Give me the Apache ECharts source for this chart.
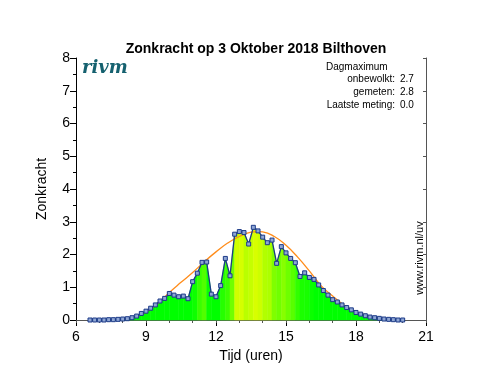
<!DOCTYPE html>
<html>
<head>
<meta charset="utf-8">
<script src="https://cdn.jsdelivr.net/npm/echarts@6/dist/echarts.min.js"></script>
<style>
  html, body { margin: 0; padding: 0; background: #fff; }
  #chart { width: 502px; height: 377px; }
</style>
</head>
<body>
<div id="chart"></div>
<script>
// metingen: elke 12 minuten, 6.6 uur t/m 20.0 uur
var startUur = 6.6;
var stapUur = 0.2;
var gemeten = [
  0.00, 0.00, 0.00, 0.00, 0.01, 0.01, 0.02,
  0.03, 0.04, 0.07, 0.12, 0.20,
  0.27, 0.36, 0.46, 0.58, 0.66,
  0.81, 0.76, 0.71, 0.73, 0.65,
  1.17, 1.43, 1.76, 1.77, 0.79,
  0.71, 1.05, 1.88, 1.35, 2.62,
  2.70, 2.67, 2.32, 2.83, 2.72,
  2.53, 2.36, 2.44, 1.73, 2.24,
  2.05, 1.88, 1.75, 1.33, 1.44,
  1.30, 1.24, 1.07, 0.90, 0.76,
  0.62, 0.55, 0.46, 0.38, 0.31,
  0.23, 0.18, 0.13, 0.09, 0.07,
  0.05, 0.03, 0.02, 0.01, 0.00,
  0.00
];
// onbewolkt (heldere hemel)
var onbewolktUur = [7.8, 8.0, 8.5, 9.0, 9.5, 10.0, 10.5, 11.0, 11.5, 12.0, 12.5, 13.0, 13.5, 13.8,
  14.0, 14.5, 15.0, 15.5, 16.0, 16.5, 17.0, 17.5, 18.0, 18.5, 19.0, 19.4];
var onbewolkt = [0.0, 0.02, 0.1, 0.25, 0.5, 0.84, 1.15, 1.45, 1.78, 2.08, 2.35, 2.55, 2.68, 2.7,
  2.69, 2.55, 2.28, 1.92, 1.5, 1.05, 0.73, 0.45, 0.26, 0.14, 0.05, 0.0];
var xTicks = [6, 9, 12, 15, 18, 21];

var uren = [];
for (var i = 0; i < gemeten.length; i++) {
  uren.push(+(startUur + i * stapUur).toFixed(2));
}
var lijnData = [], vlakData = [], heldereData = [];
for (var i = 0; i < gemeten.length; i++) {
  lijnData.push([uren[i], gemeten[i]]);
  if (i < gemeten.length - 1) vlakData.push([uren[i], gemeten[i], uren[i + 1], gemeten[i + 1]]);
}
for (var i = 0; i < onbewolkt.length; i++) heldereData.push([onbewolktUur[i], onbewolkt[i]]);

function kleur(v) {
  var f = Math.max(0, Math.min(1, (v - 1.2) / 1.5));
  var r = Math.round(f * 215);
  return 'rgb(' + r + ',255,0)';
}

var font = 'Liberation Sans, Arial, Helvetica, sans-serif';
var chart = echarts.init(document.getElementById('chart'));
chart.setOption({
  animation: false,
  title: {
    text: 'Zonkracht op 3 Oktober 2018 Bilthoven',
    left: 251, textAlign: 'center', top: 37,
    textStyle: { fontFamily: font, fontSize: 14, fontWeight: 'bold', color: '#000' }
  },
  grid: { left: 76, right: 76, top: 58, bottom: 57 },
  xAxis: [{
    type: 'value', position: 'bottom', min: 6, max: 21, interval: 3,
    name: 'Tijd (uren)', nameLocation: 'middle', nameGap: 29,
    nameTextStyle: { fontFamily: font, fontSize: 14, color: '#000' },
    axisLine: { show: true, lineStyle: { color: '#000', width: 1 } },
    axisTick: { show: true, length: 6, lineStyle: { color: '#000' } },
    minorTick: { show: true, splitNumber: 3, length: 3, lineStyle: { color: '#000' } },
    axisLabel: { fontFamily: font, fontSize: 14, color: '#000', margin: 10,
      formatter: function (v) { return xTicks.indexOf(v) >= 0 ? v : ''; } },
    splitLine: { show: false }
  }, {
    type: 'value', position: 'top', min: 6, max: 21, interval: 1,
    axisLine: { show: true, lineStyle: { color: '#555' } },
    axisTick: { show: true, inside: true, length: 3, lineStyle: { color: '#555' } },
    axisLabel: { show: false },
    splitLine: { show: false }
  }],
  yAxis: [{
    type: 'value', position: 'left', min: 0, max: 8, interval: 1,
    name: 'Zonkracht', nameLocation: 'middle', nameGap: 27, nameRotate: 90,
    nameTextStyle: { fontFamily: font, fontSize: 14, color: '#000' },
    axisLine: { show: true, lineStyle: { color: '#000', width: 1 } },
    axisTick: { show: true, length: 6, lineStyle: { color: '#000' } },
    minorTick: { show: true, splitNumber: 2, length: 3, lineStyle: { color: '#000' } },
    axisLabel: { fontFamily: font, fontSize: 14, color: '#000', margin: 6 },
    splitLine: { show: false }
  }, {
    type: 'value', position: 'right', min: 0, max: 8, interval: 1,
    axisLine: { show: true, lineStyle: { color: '#555' } },
    axisTick: { show: true, inside: true, length: 3, lineStyle: { color: '#555' } },
    axisLabel: { show: false },
    splitLine: { show: false }
  }],
  series: [{
    type: 'custom',
    xAxisIndex: 0, yAxisIndex: 0,
    data: vlakData,
    encode: { x: [0, 2], y: [1, 3] },
    renderItem: function (params, api) {
      var a = api.coord([api.value(0), 0]);
      var b = api.coord([api.value(0), api.value(1)]);
      var c = api.coord([api.value(2), api.value(3)]);
      var d = api.coord([api.value(2), 0]);
      var k = kleur((api.value(1) + api.value(3)) / 2);
      return {
        type: 'polygon',
        shape: { points: [a, b, c, d] },
        style: { fill: k, stroke: k, lineWidth: 0.6 }
      };
    },
    z: 1
  }, {
    type: 'line',
    data: heldereData,
    smooth: true,
    showSymbol: false,
    lineStyle: { color: '#ff8c1a', width: 1.3 },
    z: 2
  }, {
    type: 'line',
    data: lijnData,
    symbol: 'rect',
    symbolSize: 4,
    lineStyle: { color: '#1c3a88', width: 1.3 },
    itemStyle: { color: '#8fa6d4', borderColor: '#1c3a88', borderWidth: 1 },
    z: 3
  }],
  graphic: [{
    type: 'text', left: 82, top: 59,
    style: { text: 'rivm', fontFamily: 'DejaVu Serif, serif', fontStyle: 'italic', fontWeight: 'bold',
      fontSize: 18, fill: '#15616f' }
  }, {
    type: 'text', left: 326, top: 62,
    style: { text: 'Dagmaximum', fontFamily: font, fontSize: 10, fill: '#000' }
  }, {
    type: 'text', right: 107, top: 74,
    style: { text: 'onbewolkt:', fontFamily: font, fontSize: 10, fill: '#000', align: 'right' }
  }, {
    type: 'text', right: 107, top: 87,
    style: { text: 'gemeten:', fontFamily: font, fontSize: 10, fill: '#000', align: 'right' }
  }, {
    type: 'text', right: 107, top: 100,
    style: { text: 'Laatste meting:', fontFamily: font, fontSize: 10, fill: '#000', align: 'right' }
  }, {
    type: 'text', left: 400, top: 74,
    style: { text: '2.7', fontFamily: font, fontSize: 10, fill: '#000' }
  }, {
    type: 'text', left: 400, top: 87,
    style: { text: '2.8', fontFamily: font, fontSize: 10, fill: '#000' }
  }, {
    type: 'text', left: 400, top: 100,
    style: { text: '0.0', fontFamily: font, fontSize: 10, fill: '#000' }
  }, {
    type: 'text', x: 420, y: 258, rotation: Math.PI / 2,
    style: { text: 'www.rivm.nl/uv', fontFamily: font, fontSize: 11, fill: '#000',
      align: 'center', verticalAlign: 'middle' }
  }]
});
</script>
</body>
</html>
